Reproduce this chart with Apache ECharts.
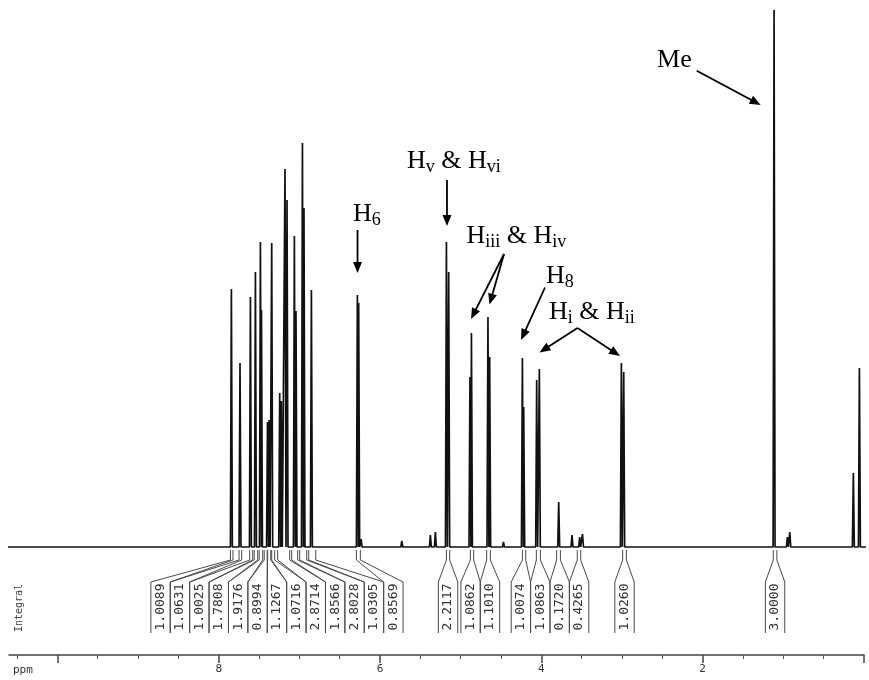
<!DOCTYPE html>
<html><head><meta charset="utf-8">
<script src="https://cdn.jsdelivr.net/npm/echarts@6/dist/echarts.min.js"></script>
<style>html,body{margin:0;padding:0;background:#fff}#c{width:869px;height:680px}</style>
</head><body><div id="c"></div>
<script>
// ---------------- data ----------------
const peakPpm = [7.843, 7.736, 7.607, 7.545, 7.483, 7.470, 7.395, 7.375, 7.343, 7.244, 7.224, 7.178, 7.153,
  7.062, 7.042, 6.962, 6.943, 6.851, 6.281, 6.265, 6.235, 5.73, 5.376, 5.314, 5.177, 5.149,
  4.885, 4.867, 4.662, 4.641, 4.47, 4.235, 4.219, 4.058, 4.025, 3.785, 3.62, 3.525, 3.49,
  3.008, 2.979, 1.115, 0.95, 0.92, 0.132, 0.057];
const peakHeight = [258, 184, 250, 275, 305, 237, 125, 127, 304, 154, 146, 378, 347,
  311, 236, 404, 339, 257, 252, 244, 8, 6, 12, 15, 305, 275,
  170, 214, 230, 190, 5, 189, 140, 167, 178, 45, 12, 10, 13,
  184, 175, 537, 10, 15, 74, 179];
const baselineRange = [10.75, -0.03];

const integralStart = [7.855, 7.748, 7.616, 7.560, 7.498, 7.436, 7.393, 7.343, 7.269, 7.095, 6.996, 6.884, 6.293,
  5.177, 4.880, 4.678, 4.235, 4.062, 3.810, 3.555, 2.992, 1.125];
const integralEnd = [7.823, 7.715, 7.579, 7.517, 7.455, 7.399, 7.355, 7.306, 7.120, 7.021, 6.909, 6.797, 6.244,
  5.136, 4.839, 4.632, 4.194, 4.012, 3.764, 3.512, 2.946, 1.080];
const integralLabels = ['1.0089', '1.0631', '1.0025', '1.7808', '1.9176', '0.8994', '1.1267', '1.0716', '2.8714',
  '1.8566', '2.8028', '1.0305', '0.8569', '2.2117', '1.0862', '1.1010', '1.0074', '1.0863', '0.1720', '0.4265',
  '1.0260', '3.0000'];

const majorTicks = [0, 2, 4, 6, 8, 10];
const minorTicks = [0.5, 1, 1.5, 2.5, 3, 3.5, 4.5, 5, 5.5, 6.5, 7, 7.5, 8.5, 9, 9.5, 10.5];
const tickLabels = [2, 4, 6, 8];

// ---------------- chart ----------------
const chart = echarts.init(document.getElementById('c'), null, {renderer: 'canvas'});

const spike = 0.012;
const order = peakPpm.map((p, i) => i).sort((a, b) => peakPpm[b] - peakPpm[a]);
const specData = [[baselineRange[0], 0]];
order.forEach(i => {
  specData.push([peakPpm[i] + spike, 0], [peakPpm[i], peakHeight[i]], [peakPpm[i] - spike, 0]);
});
specData.push([baselineRange[1], 0]);

const BOX_W = 19.4;
function dodge(centers, w) {
  const cl = [];
  centers.forEach((c, i) => {
    let cur = {first: i, n: 1, sum: c};
    while (cl.length) {
      const prev = cl[cl.length - 1];
      const prevRight = prev.sum / prev.n + prev.n * w / 2;
      const curLeft = cur.sum / cur.n - cur.n * w / 2;
      if (prevRight > curLeft) {
        cl.pop();
        cur = {first: prev.first, n: prev.n + cur.n, sum: prev.sum + cur.sum};
      } else break;
    }
    cl.push(cur);
  });
  const out = [];
  cl.forEach(k => {
    const m = k.sum / k.n;
    for (let j = 0; j < k.n; j++) out[k.first + j] = m - k.n * w / 2 + w * (j + 0.5);
  });
  return out;
}

const lineCol = '#4a4a4a';
function renderIntegral(params, api) {
  const centers = integralStart.map((s, i) => (api.coord([s, 0])[0] + api.coord([integralEnd[i], 0])[0]) / 2);
  const boxes = dodge(centers, BOX_W);
  const i = params.dataIndex;
  const p1 = api.coord([integralStart[i], 0]);
  const x1 = p1[0], y0 = p1[1];
  const x2 = api.coord([integralEnd[i], 0])[0];
  const bc = boxes[i], bl = bc - BOX_W / 2, br = bc + BOX_W / 2;
  const st = {stroke: lineCol, lineWidth: 1, fill: null};
  return {
    type: 'group',
    children: [
      {type: 'polyline', shape: {points: [[x1, y0 + 3], [x1, y0 + 13], [bl, y0 + 35], [bl, y0 + 86]]}, style: st},
      {type: 'polyline', shape: {points: [[x2, y0 + 3], [x2, y0 + 13], [br, y0 + 35], [br, y0 + 86]]}, style: st},
      {type: 'text', x: bc, y: y0 + 60, rotation: Math.PI / 2,
        style: {text: integralLabels[i], x: 0, y: 0, align: 'center', verticalAlign: 'middle',
          fontSize: 13, fontFamily: 'DejaVu Sans Mono', fill: '#333'}}
    ]
  };
}

const axisCommon = {
  type: 'value', inverse: true, min: 0, max: 10.6, position: 'bottom', offset: 108,
  splitLine: {show: false}
};

chart.setOption({
  animation: false,
  backgroundColor: '#fff',
  grid: {left: 9, right: 5, top: 0, bottom: 133},
  xAxis: [
    Object.assign({}, axisCommon, {
      axisLine: {show: true, onZero: false, lineStyle: {color: '#444', width: 1.5}},
      axisTick: {show: true, length: 8, customValues: majorTicks, lineStyle: {color: '#444', width: 1.5}},
      axisLabel: {show: true, customValues: tickLabels, fontSize: 11, fontFamily: 'DejaVu Sans Mono',
        color: '#333', margin: 9, formatter: v => String(v)}
    }),
    Object.assign({}, axisCommon, {
      axisLine: {show: false, onZero: false},
      axisTick: {show: true, length: 4, customValues: minorTicks, lineStyle: {color: '#555', width: 1}},
      axisLabel: {show: false}
    })
  ],
  yAxis: {type: 'value', min: 0, max: 547, show: false},
  series: [
    {
      type: 'line', data: specData, showSymbol: false, clip: false, sampling: null,
      lineStyle: {color: '#111', width: 1.7}, silent: true, z: 3
    },
    {
      type: 'custom', coordinateSystem: 'cartesian2d', clip: false,
      data: integralStart.map((s, i) => [s, integralEnd[i], 0]),
      encode: {x: [0, 1], y: 2},
      renderItem: renderIntegral, silent: true
    }
  ]
});

// ---------------- annotations (anchored in data space) ----------------
const annotations = {
  labels: [
    {at: [2.566, 487], parts: [['Me', 0]]},
    {at: [5.666, 385.7], parts: [['H', 0], ['v', 1], [' & ', 0], ['H', 0], ['vi', 1]]},
    {at: [6.335, 333], parts: [['H', 0], ['6', 1]]},
    {at: [4.928, 310.6], parts: [['H', 0], ['iii', 1], [' & ', 0], ['H', 0], ['iv', 1]]},
    {at: [3.942, 271], parts: [['H', 0], ['8', 1]]},
    {at: [3.905, 234.7], parts: [['H', 0], ['i', 1], [' & ', 0], ['H', 0], ['ii', 1]]}
  ],
  arrows: [
    [[2.074, 476.3], [1.281, 442]],
    [[5.170, 367], [5.170, 321]],
    [[6.279, 317], [6.279, 274]],
    [[4.463, 293], [4.872, 228]],
    [[4.463, 293], [4.643, 242.5]],
    [[3.955, 259.5], [4.252, 207]],
    [[3.552, 219], [4.023, 194.5]],
    [[3.552, 219], [3.025, 191]]
  ]
};

const mainFont = '26px "Liberation Serif"';
const subFont = '18px "Liberation Serif"';
const mctx = document.createElement('canvas').getContext('2d');
function measure(t, f) { mctx.font = f; return mctx.measureText(t).width; }
const toPx = v => chart.convertToPixel({xAxisIndex: 0, yAxisIndex: 0}, v);

const graphics = [];
annotations.labels.forEach(l => {
  const p = toPx(l.at);
  let x = p[0];
  l.parts.forEach(([t, sub]) => {
    const f = sub ? subFont : mainFont;
    graphics.push({type: 'text', x: x, y: p[1] + (sub ? 6 : 0), z: 10,
      style: {text: t, font: f, fill: '#000', align: 'left', verticalAlign: 'middle'}});
    x += measure(t, f);
  });
});
annotations.arrows.forEach(([a, b]) => {
  const p = toPx(a), q = toPx(b);
  const dx = q[0] - p[0], dy = q[1] - p[1], len = Math.hypot(dx, dy);
  const ux = dx / len, uy = dy / len, hl = 11, hw = 4.5;
  const bx = q[0] - ux * hl, by = q[1] - uy * hl;
  graphics.push({type: 'line', z: 10, shape: {x1: p[0], y1: p[1], x2: bx + ux * 1, y2: by + uy * 1},
    style: {stroke: '#000', lineWidth: 1.8}});
  graphics.push({type: 'polygon', z: 10,
    shape: {points: [[q[0], q[1]], [bx - uy * hw, by + ux * hw], [bx + uy * hw, by - ux * hw]]},
    style: {fill: '#000'}});
});
graphics.push({type: 'text', x: 19, y: 608, rotation: Math.PI / 2,
  style: {text: 'Integral', font: '10px "DejaVu Sans Mono"', fill: '#444', align: 'center', verticalAlign: 'middle'}});
graphics.push({type: 'text', x: 13, y: 670,
  style: {text: 'ppm', font: '11px "DejaVu Sans Mono"', fill: '#333', align: 'left', verticalAlign: 'middle'}});

chart.setOption({graphic: graphics});
</script>
</body></html>
